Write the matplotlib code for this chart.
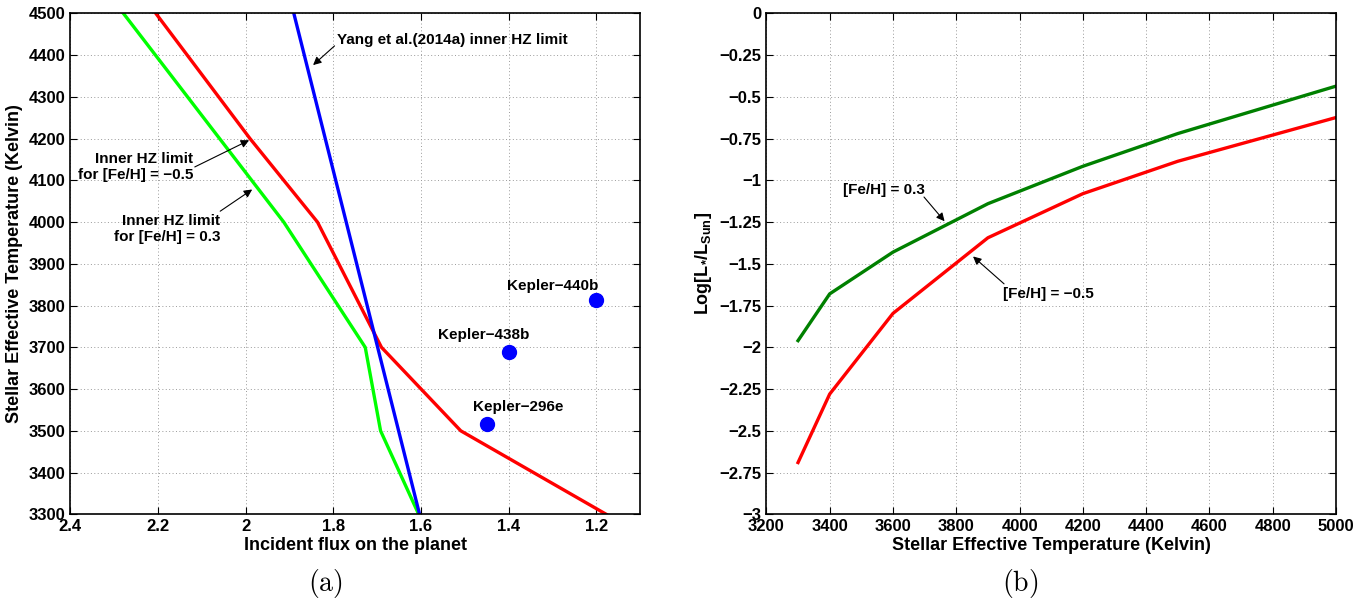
import matplotlib
matplotlib.use("Agg")
import matplotlib.pyplot as plt
import numpy as np

plt.rcParams['font.family'] = ['Liberation Sans', 'DejaVu Sans']
plt.rcParams['font.weight'] = 'bold'
plt.rcParams['mathtext.fontset'] = 'custom'
plt.rcParams['mathtext.rm'] = 'Liberation Sans:bold'
plt.rcParams['mathtext.it'] = 'Liberation Sans:bold'
plt.rcParams['mathtext.bf'] = 'Liberation Sans:bold'

# panel (a): incident flux vs Teff
teff_red = [4500, 4200, 4000, 3700, 3500, 3300]
flux_red = [2.205, 1.99, 1.836, 1.69, 1.509, 1.177]
teff_green = [4500, 4000, 3700, 3500, 3300]
flux_green = [2.279, 1.913, 1.727, 1.692, 1.605]
teff_blue = [4500, 3300]
flux_blue = [1.890, 1.603]
planet_names = ['Kepler\u2212440b', 'Kepler\u2212438b', 'Kepler\u2212296e']
planet_flux = [1.2, 1.4, 1.45]
planet_teff = [3813, 3688, 3517]

# panel (b): luminosity vs Teff
teff_b = [3300, 3400, 3600, 3900, 4200, 4500, 5000]
logl_p03 = [-1.96, -1.68, -1.43, -1.14, -0.916, -0.72, -0.436]
logl_m05 = [-2.69, -2.28, -1.797, -1.344, -1.08, -0.886, -0.624]

fs = 12


def fmt(v):
    return ('%g' % v).replace('-', '\u2212')


def style(ax):
    ax.grid(True, linestyle=(0, (1, 2.5)), color='#9a9a9a', linewidth=0.7)
    ax.tick_params(direction='in', top=True, right=True, length=5,
                   labelsize=fs, width=0.8)
    for s in ax.spines.values():
        s.set_linewidth(1.2)
    for lab in ax.get_xticklabels() + ax.get_yticklabels():
        lab.set_fontweight('bold')


def arrow(ax, tail, tip):
    ax.annotate('', xy=tip, xytext=tail,
                arrowprops=dict(arrowstyle='-|>', color='black', linewidth=0.8,
                                mutation_scale=12, shrinkA=0, shrinkB=0))


fig = plt.figure(figsize=(13.71, 6.08), dpi=100)
ax1 = fig.add_axes([0.0513, 0.1541, 0.4155, 0.824])
ax2 = fig.add_axes([0.5590, 0.1541, 0.4155, 0.824])

# (a)
ax1.plot(flux_green, teff_green, color='#00ff00', linewidth=2.4)
ax1.plot(flux_red, teff_red, color='#ff0000', linewidth=2.4)
ax1.plot(flux_blue, teff_blue, color='#0000ff', linewidth=2.4)
ax1.plot(planet_flux, planet_teff, 'o', color='#0000ff', markersize=10)
ax1.set_xlim(2.4, 1.1)
ax1.set_ylim(3300, 4500)
xt = [2.4, 2.2, 2.0, 1.8, 1.6, 1.4, 1.2]
ax1.set_xticks(xt)
ax1.set_xticklabels([fmt(v) for v in xt])
yt = list(range(3300, 4501, 100))
ax1.set_yticks(yt)
ax1.set_yticklabels([str(v) for v in yt])
ax1.set_xlabel('Incident flux on the planet', fontsize=fs + 1, fontweight='bold', labelpad=2)
ax1.set_ylabel('Stellar Effective Temperature (Kelvin)', fontsize=fs + 1, fontweight='bold', labelpad=4)
style(ax1)

ax1.text(1.791, 4437, 'Yang et al.(2014a) inner HZ limit', fontsize=fs - 1,
         fontweight='bold', ha='left', va='center')
arrow(ax1, (1.797, 4422), (1.846, 4376))
ax1.text(2.12, 4132, 'Inner HZ limit\nfor [Fe/H] = \u22120.5', fontsize=fs - 1,
         fontweight='bold', ha='right', va='center', multialignment='right')
arrow(ax1, (2.116, 4132), (1.992, 4196))
ax1.text(2.058, 3983, 'Inner HZ limit\nfor [Fe/H] = 0.3', fontsize=fs - 1,
         fontweight='bold', ha='right', va='center', multialignment='right')
arrow(ax1, (2.058, 4026), (1.985, 4078))
label_pos = [(1.299, 3848), (1.457, 3730), (1.378, 3558)]
for name, (lx, ly) in zip(planet_names, label_pos):
    ax1.text(lx, ly, name, fontsize=fs - 1, fontweight='bold', ha='center', va='center')

# (b)
ax2.plot(teff_b, logl_p03, color='#008000', linewidth=2.4)
ax2.plot(teff_b, logl_m05, color='#ff0000', linewidth=2.4)
ax2.set_xlim(3200, 5000)
ax2.set_ylim(-3, 0)
xt2 = list(range(3200, 5001, 200))
ax2.set_xticks(xt2)
ax2.set_xticklabels([str(v) for v in xt2])
yt2 = list(np.arange(-3, 0.01, 0.25))
ax2.set_yticks(yt2)
ax2.set_yticklabels([fmt(round(v, 2)) for v in yt2])
ax2.set_xlabel('Stellar Effective Temperature (Kelvin)', fontsize=fs + 1, fontweight='bold', labelpad=2)
ax2.set_ylabel(r'Log[L$_{*}$/L$_{\mathrm{Sun}}$]', fontsize=fs + 1, fontweight='bold', labelpad=4)
style(ax2)
ax2.text(3573, -1.056, '[Fe/H] = 0.3', fontsize=fs - 1, fontweight='bold',
         ha='center', va='center')
arrow(ax2, (3698, -1.10), (3763, -1.245))
ax2.text(4090, -1.68, '[Fe/H] = \u22120.5', fontsize=fs - 1, fontweight='bold',
         ha='center', va='center')
arrow(ax2, (3951, -1.62), (3853, -1.456))

fig.text(325 / 1371, 1 - 583 / 608, r'$\mathrm{(a)}$', fontsize=20, ha='center', va='center',
         math_fontfamily='cm')
fig.text(1020 / 1371, 1 - 583 / 608, r'$\mathrm{(b)}$', fontsize=20, ha='center', va='center',
         math_fontfamily='cm')

fig.savefig('out.png', dpi=100)
